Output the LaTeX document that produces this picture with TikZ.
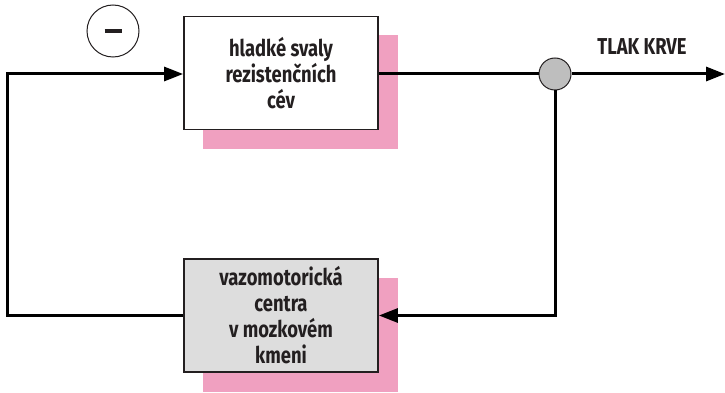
\documentclass[tikz,border=0pt]{standalone}
\usepackage{fontspec}
\setmainfont{Fira Sans}[FakeStretch=0.8]
\usetikzlibrary{arrows.meta,positioning}
\definecolor{shadowpink}{RGB}{240,160,192}
\definecolor{centregray}{RGB}{221,221,221}
\definecolor{nodegray}{RGB}{190,190,190}
\definecolor{inkdark}{RGB}{35,31,32}

\begin{document}
\begin{tikzpicture}[x=1pt,y=-1pt,
    block/.style={draw=inkdark, line width=1.8pt, rectangle, minimum width=194pt, minimum height=113pt, align=center, text=inkdark, font=\bfseries\fontsize{23}{26}\selectfont},
    shade/.style={fill=shadowpink, rectangle, minimum width=195pt, minimum height=114pt, inner sep=0pt},
    flow/.style={line width=3pt, draw=black},
    tip/.style={-{Triangle[length=19pt,width=14pt]}}]
  \useasboundingbox (0,0) rectangle (725,393);

  % shadows first
  \node[shade] (muscleshade) at (300.5,92) {};
  \node[shade] (centreshade) at (300.5,335) {};

  % the two blocks
  \node[block, fill=white] (muscle) at (281,73) {hladké svaly\\rezistenčních\\cév};
  \node[block, fill=centregray] (centre) at (281,315.5) {vazomotorická\\centra\\v mozkovém\\kmeni};

  \node[draw=inkdark, line width=1pt, circle, minimum size=52pt, inner sep=0pt] (minus) at (113,31) {\color{inkdark}\rule[-2pt]{17pt}{4pt}};
  \node[draw=inkdark, line width=1pt, circle, fill=nodegray, minimum size=32pt, inner sep=0pt] (junction) at (555,74) {};
  \node[text=inkdark, font=\bfseries\fontsize{23}{26}\selectfont] (pressure) at (642,47) {TLAK KRVE};

  \coordinate (out) at (725,74);
  \coordinate (loop) at (7,74);

  \draw[flow] (muscle.east |- junction) -- (junction.west);
  \draw[flow, tip] (junction.east) -- (out);
  \draw[flow, tip] (junction.south) |- (centre.east);
  \draw[flow, tip] (centre.west) -| (loop) -- (muscle.west |- loop);
\end{tikzpicture}
\end{document}
